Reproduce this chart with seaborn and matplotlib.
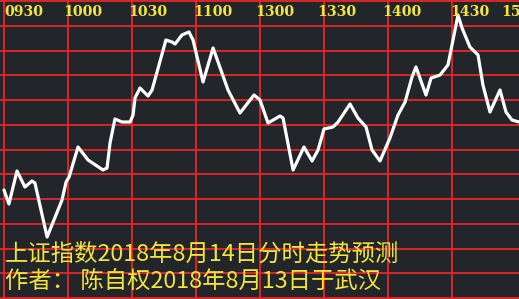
import matplotlib
matplotlib.use("Agg")
import matplotlib.pyplot as plt
import seaborn as sns
import numpy as np
import pandas as pd

# ---- data ----
minutes = [0, 2.3, 6.1, 9.8, 13.1, 14.5, 20.2, 27.2, 29.1, 30.5, 34.7, 39.4, 46.4, 48.3,
           49.7, 52.0, 55.3, 59.1, 60.5, 61.4, 63.75, 67.5, 69.4, 75.9, 78.75, 80.2,
           83.4, 86.7, 88.6, 93.3, 98.0, 105.0, 110.6, 117.2, 120.0, 123.75, 129.4,
           130.8, 135.5, 140.6, 144.4, 147.2, 150.0, 154.2, 156.6, 162.2, 165.9,
           169.7, 172.5, 176.25, 180.9, 184.7, 188.0, 191.25, 193.1, 197.8, 200.2,
           204.4, 208.1, 210.0, 212.8, 214.7, 218.4, 222.2, 224.5, 227.8, 232.5,
           235.3, 238.1, 241.4]
index_values = [2723.2, 2717.6, 2730.8, 2724.4, 2726.8, 2726.0, 2704.4, 2719.2, 2726.4,
                2728.4, 2740.4, 2735.2, 2731.2, 2732.0, 2742.0, 2751.6, 2750.4, 2750.4,
                2753.2, 2760.0, 2764.0, 2760.8, 2763.2, 2783.2, 2782.4, 2781.6, 2785.2,
                2786.4, 2783.2, 2766.4, 2780.0, 2763.2, 2754.0, 2761.2, 2759.2, 2750.0,
                2752.8, 2752.0, 2731.2, 2740.4, 2734.8, 2739.2, 2747.6, 2748.4, 2750.4,
                2757.6, 2752.0, 2748.4, 2739.2, 2734.8, 2744.0, 2753.2, 2758.4, 2768.4,
                2772.4, 2761.2, 2768.0, 2769.2, 2773.2, 2781.2, 2793.2, 2788.0, 2780.4,
                2777.2, 2765.2, 2754.4, 2763.2, 2754.4, 2751.2, 2750.4]
tick_minutes = [0, 30, 60, 90, 120, 150, 180, 210, 240]
tick_labels = ["0930", "1000", "1030", "1100", "1300", "1330", "1400", "1430", "1500"]
title_line1 = "上证指数2018年8月14日分时走势预测"
title_line2 = "作者： 陈自权2018年8月13日于武汉"

# ---- layout / style ----
W, H, DPI = 519, 299, 100
BG = "#222529"
RED = "#e8262a"
YELLOW = "#f2e53c"
x_min, x_max = -1.875, 241.4
y_min, y_max = 2679.6, 2799.2
label_px_offset = [0, -5, -4, -3, -5, -7, -6, -2, -15]   # left edge of label vs grid line, px

sns.set_theme(style="dark")
plt.rcParams["font.family"] = ["Noto Sans CJK SC", "DejaVu Sans"]

fig = plt.figure(figsize=(W / DPI, H / DPI), dpi=DPI)
fig.patch.set_facecolor(BG)
ax = fig.add_axes([0, 0, 1, 1])
ax.set_facecolor(BG)
ax.set_xlim(x_min, x_max)
ax.set_ylim(y_min, y_max)
for s in ax.spines.values():
    s.set_visible(False)
ax.set_xticks([])
ax.set_yticks([])
ax.grid(False)

# grid
for m in tick_minutes[:-1]:
    ax.axvline(m, color=RED, lw=1.3, zorder=1)
for k in range(13):
    ax.axhline(2798.8 - 9.9 * k, color=RED, lw=1.3, zorder=1)

df = pd.DataFrame({"minute": minutes, "value": index_values})
sns.lineplot(data=df, x="minute", y="value", ax=ax, color="white",
             linewidth=2.3, zorder=3, sort=False)
ax.set_xlabel("")
ax.set_ylabel("")

# time labels
px_per_min = 64 / 30
for m, lab, off in zip(tick_minutes, tick_labels, label_px_offset):
    xpix = 4 + m * px_per_min + off
    ax.text(xpix / W, 1 - 12 / H, lab, transform=ax.transAxes, ha="left", va="center",
            color=YELLOW, fontsize=10.2, fontweight="bold", family="DejaVu Serif",
            zorder=4)

ax.text(5 / W, 1 - 254 / H, title_line1, transform=ax.transAxes, ha="left",
        va="center", color=YELLOW, fontsize=16.8,
        family=["Noto Sans CJK SC", "DejaVu Sans"], zorder=4)
ax.text(5 / W, 1 - 281 / H, title_line2, transform=ax.transAxes, ha="left",
        va="center", color=YELLOW, fontsize=16.8,
        family=["Noto Sans CJK SC", "DejaVu Sans"], zorder=4)

fig.savefig("out.png", dpi=DPI, facecolor=BG)
